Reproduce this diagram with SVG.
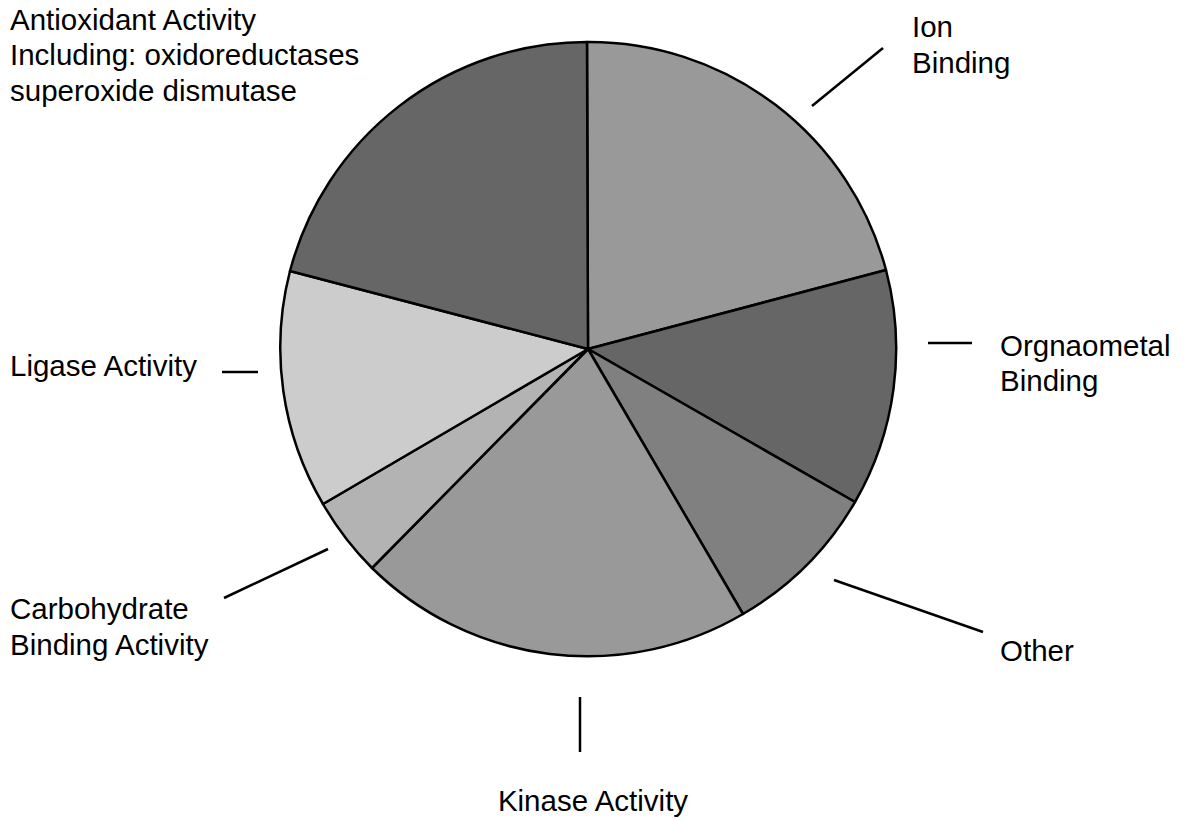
<svg xmlns="http://www.w3.org/2000/svg" width="1186" height="821" viewBox="0 0 1186 821">
<style>
.s{stroke:#000;stroke-width:2.5;stroke-linejoin:round}
.l{stroke:#000;stroke-width:2.5;fill:none}
text{font-family:"Liberation Sans",Arial,sans-serif;font-size:29.5px;fill:#000}
</style>
<rect width="1186" height="821" fill="#fff"/>
<g id="slices">
<g id="ion"><path class="s" fill="#999999" d="M588,349 L587,42 A307,307 0 0 1 886,270 Z"/></g>
<g id="organometal"><path class="s" fill="#666666" d="M588,349 L886,270 A307,307 0 0 1 855,502 Z"/></g>
<g id="other"><path class="s" fill="#808080" d="M588,349 L855,502 A307,307 0 0 1 743,614 Z"/></g>
<g id="kinase"><path class="s" fill="#999999" d="M588,349 L743,614 A307,307 0 0 1 372,568 Z"/></g>
<g id="carbohydrate"><path class="s" fill="#b3b3b3" d="M588,349 L372,568 A307,307 0 0 1 323,504 Z"/></g>
<g id="ligase"><path class="s" fill="#cccccc" d="M588,349 L323,504 A307,307 0 0 1 290,271 Z"/></g>
<g id="antioxidant"><path class="s" fill="#666666" d="M588,349 L290,271 A307,307 0 0 1 587,42 Z"/></g>
</g>
<g id="connectors">
<line class="l" x1="812" y1="106" x2="883" y2="48"/>
<line class="l" x1="928" y1="343" x2="972" y2="343"/>
<line class="l" x1="834" y1="580" x2="983" y2="632"/>
<line class="l" x1="580" y1="697" x2="580" y2="752"/>
<line class="l" x1="224" y1="598" x2="328" y2="549"/>
<line class="l" x1="222" y1="372" x2="258" y2="372"/>
</g>
<g id="labels">
<text x="10" y="30">Antioxidant Activity</text>
<text x="10" y="65">Including: oxidoreductases</text>
<text x="10" y="101">superoxide dismutase</text>
<text x="912" y="37">Ion</text>
<text x="912" y="73">Binding</text>
<text x="1000" y="356">Orgnaometal</text>
<text x="1000" y="391">Binding</text>
<text x="10" y="376">Ligase Activity</text>
<text x="10" y="619">Carbohydrate</text>
<text x="10" y="655">Binding Activity</text>
<text x="593" y="811" text-anchor="middle">Kinase Activity</text>
<text x="1000" y="661">Other</text>
</g>
</svg>
